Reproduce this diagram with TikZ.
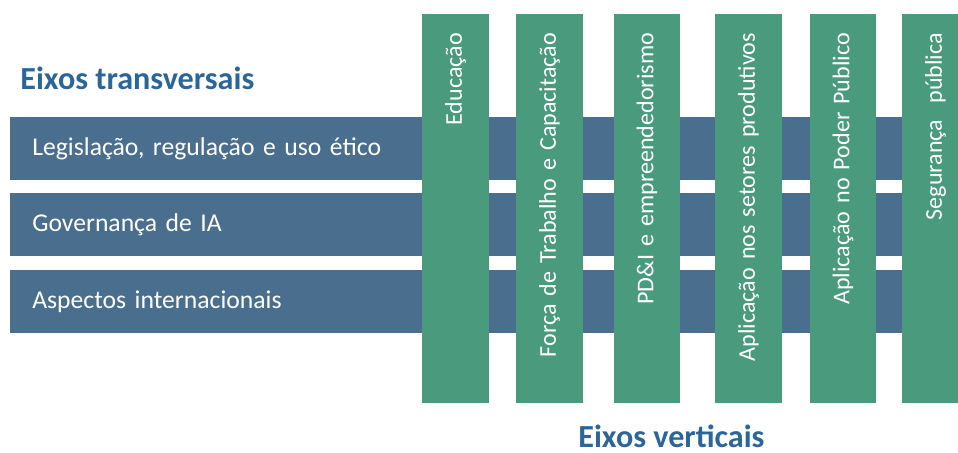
\documentclass[tikz,border=0pt]{standalone}
\usepackage{fontspec}
\setmainfont{Carlito}
\usetikzlibrary{positioning}
\definecolor{barblue}{HTML}{4A6F8E}
\definecolor{bargreen}{HTML}{4A9A7E}
\definecolor{titleblue}{HTML}{2B669A}

\begin{document}
\begin{tikzpicture}[x=0.02cm, y=-0.02cm,
  hbar/.style={fill=barblue, text=white, anchor=north west, minimum width=19.5cm,
    minimum height=1.26cm, inner xsep=0.44cm, inner ysep=0pt, text width=18.62cm,
    align=left, font=\fontsize{14.6}{17}\selectfont},
  vbar/.style={fill=bargreen, text=white, rotate=90, minimum width=7.78cm,
    minimum height=1.34cm, inner xsep=0.38cm, inner ysep=0pt, text width=7.02cm,
    align=right, font=\fontsize{13.7}{16}\selectfont},
  axistitle/.style={text=titleblue, anchor=base west, inner sep=0pt,
    font=\bfseries\fontsize{18.3}{21}\selectfont}]
% Frame
\useasboundingbox (0,0) rectangle (958,453);
\clip (0,0) rectangle (958,453);

% Titles
\node[axistitle] (transversal) at (20,90) {Eixos transversais};
\node[axistitle] (vertical) at (578,447) {Eixos verticais};

% Transversal axes
\node[hbar] (legal) at (10,117) {Legislação, regulação e uso ético};
\node[hbar] (gov) at (10,193) {Governança de IA};
\node[hbar] (intl) at (10,270) {Aspectos internacionais};

% Vertical axes
\foreach \x/\name/\label in {455.5/edu/Educação,
    549.5/work/Força de Trabalho e Capacitação,
    647/rdi/PD\&I e empreendedorismo,
    748.5/prod/Aplicação nos setores produtivos,
    843/public/Aplicação no Poder Público,
    935.5/safety/Segurança\ \ pública}
  \node[vbar] (\name) at (\x,208.5) {\label};
\end{tikzpicture}
\end{document}
